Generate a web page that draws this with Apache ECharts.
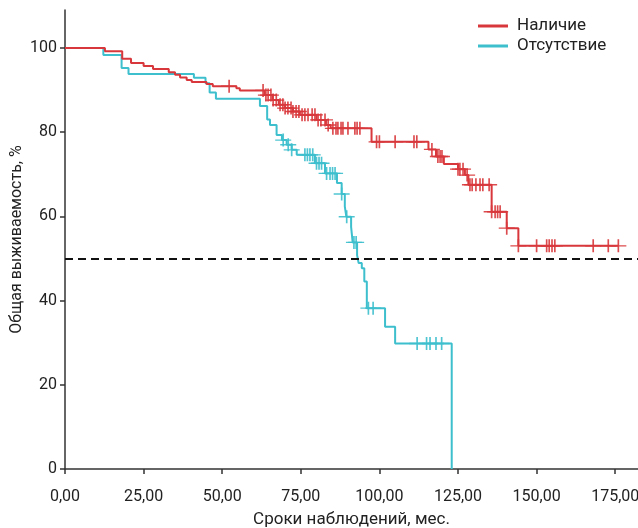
<!DOCTYPE html>
<html><head><meta charset="utf-8">
<script src="https://cdn.jsdelivr.net/npm/echarts@6/dist/echarts.min.js"></script>
<style>html,body{margin:0;padding:0;background:#fff}#c{width:638px;height:528px}</style>
</head><body><div id="c"></div>
<script>
const seriesNames = ['Наличие', 'Отсутствие'];
// [time (months), survival % after event]
const presentSteps = [[0,100],[12.7,99.2],[18.2,97.4],[21,96.4],[25,95.7],[28,95],[33,94.2],[35,93.6],[36.6,93],[38.7,92.4],[40.3,91.9],[45,91.4],[47,90.9],[54.5,90.4],[55.6,89.9],[63.5,88.8],[66,87.6],[68,86.5],[70,85.7],[72.5,84.9],[74.7,84.1],[80,82.9],[83,81.7],[84.5,80.9],[97.5,77.7],[115.6,75.9],[118,74.2],[120.5,72.4],[125,71.2],[127.2,69.8],[128.3,67.5],[135.7,61.1],[140.5,57.2],[144.2,53]];
const presentCensored = [52.2,63.0,63.9,64.6,65.5,66.2,67.2,68.4,69.3,70.0,70.9,71.9,72.5,73.5,74.4,75.4,76.3,77.3,78.6,79.5,80.5,81.4,82.7,83.7,85.2,86.2,86.8,87.8,88.4,90.0,92.2,92.9,93.8,99.1,100.0,105,111,111.9,116.7,118.6,119.3,119.9,125,125.6,126.6,127.9,128.8,129.5,130.7,132,132.9,134.9,135.7,136.8,137.6,138.4,140.5,144.2,150,153.2,154,154.9,155.8,168,172.8,176];
const absentSteps = [[0,100],[12.2,98.3],[18,95.2],[20.2,93.8],[41,92.9],[44.7,91.6],[46,89.4],[48,87.9],[62,86.2],[64.3,83],[65.2,81.7],[67.3,79.3],[69,78.1],[70.5,77],[72.1,75.8],[73.7,74.6],[79.5,72.6],[82.7,70.2],[86.5,67.9],[88,65.3],[89,62.3],[89.5,59.9],[91,57.5],[91.5,53.8],[92.9,50.8],[93.4,48.9],[94.4,47.7],[95.2,44.5],[96,38.2],[101.8,33.8],[105,29.8],[123,0]];
const absentCensored = [69.4,71,72.1,76.3,77.1,77.9,78.8,80,80.8,81.6,83.2,84.3,85.1,85.9,88,89.6,91.9,92.6,96.5,98,112,115,116.1,118,119.8];
const xTicks = [0,25,50,75,100,125,150,175];
const yTicks = [0,20,40,60,80,100];
const medianLevel = 50;

const colors = ['#d8373b', '#3dbfcd'];
const font = 'Roboto';

function survivalAt(steps, t) {
  let s = steps[0][1];
  for (const [time, val] of steps) { if (time <= t) s = val; else break; }
  return s;
}
function lineData(steps, cens) {
  const d = steps.slice();
  const last = steps[steps.length - 1];
  const lastC = Math.max.apply(null, cens);
  if (lastC > last[0]) d.push([lastC, last[1]]);
  return d;
}
function censData(steps, cens) { return cens.map(t => [t, survivalAt(steps, t)]); }

const plus = 'path://M8,0 L8,13 M0,6.5 L16,6.5';
const chart = echarts.init(document.getElementById('c'));
chart.setOption({
  animation: false,
  grid: { left: 65, right: 0, top: 10, bottom: 59, outerBoundsMode: 'none', containLabel: false },
  legend: {
    data: seriesNames, orient: 'vertical', left: 478, top: 17, itemGap: 2, padding: 0,
    icon: 'rect', itemWidth: 30, itemHeight: 3,
    textStyle: { fontFamily: font, fontSize: 17, color: '#222', lineHeight: 18, padding: [0, 0, 0, 4] }
  },
  xAxis: {
    type: 'value', min: 0, max: 182.25, interval: 25,
    name: 'Сроки наблюдений, мес.', nameLocation: 'middle', nameGap: 42, nameMoveOverlap: false,
    nameTextStyle: { fontFamily: font, fontSize: 17, color: '#222' },
    axisLine: { lineStyle: { color: '#333', width: 1.5 } },
    axisTick: { length: 5, customValues: xTicks, lineStyle: { color: '#333', width: 1.5 } },
    axisLabel: { customValues: xTicks, margin: 20, fontFamily: font, fontSize: 16, color: '#222',
      formatter: v => v.toFixed(2).replace('.', ',') },
    splitLine: { show: false }
  },
  yAxis: {
    type: 'value', min: 0, max: 109, interval: 20,
    name: 'Общая выживаемость, %', nameLocation: 'middle', nameRotate: 90, nameGap: 40, nameMoveOverlap: false,
    nameTextStyle: { fontFamily: font, fontSize: 16, color: '#222' },
    axisLine: { show: true, lineStyle: { color: '#333', width: 1.5 } },
    axisTick: { show: true, length: 5, customValues: yTicks, lineStyle: { color: '#333', width: 1.5 } },
    axisLabel: { customValues: yTicks, margin: 8, fontFamily: font, fontSize: 16, color: '#222' },
    splitLine: { show: false }
  },
  series: [
    { name: seriesNames[1], type: 'line', step: 'end', data: lineData(absentSteps, absentCensored),
      showSymbol: false, lineStyle: { color: colors[1], width: 2 }, itemStyle: { color: colors[1] },
      markLine: { silent: true, symbol: 'none', label: { show: false },
        lineStyle: { color: '#111', type: [8, 5], width: 2 }, data: [{ yAxis: medianLevel }] } },
    { name: seriesNames[0], type: 'line', step: 'end', data: lineData(presentSteps, presentCensored),
      showSymbol: false, lineStyle: { color: colors[0], width: 2 }, itemStyle: { color: colors[0] } },
    { type: 'scatter', data: censData(absentSteps, absentCensored), symbol: plus, symbolSize: [16, 13],
      itemStyle: { color: 'none', borderColor: colors[1], borderWidth: 1.5, opacity: 0.9 } },
    { type: 'scatter', data: censData(presentSteps, presentCensored), symbol: plus, symbolSize: [16, 13],
      itemStyle: { color: 'none', borderColor: colors[0], borderWidth: 1.5, opacity: 0.9 } }
  ]
});
</script>
</body></html>
